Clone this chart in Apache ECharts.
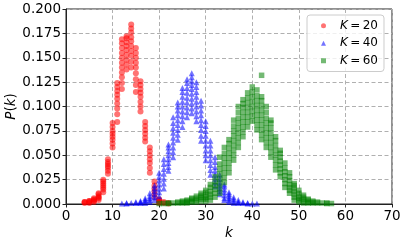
<!DOCTYPE html>
<html><head><meta charset="utf-8">
<script src="https://cdn.jsdelivr.net/npm/echarts@6/dist/echarts.min.js"></script>
<style>html,body{margin:0;padding:0;background:#fff}#c{width:406px;height:243px}</style>
</head><body><div id="c"></div>
<script>
// ---- data ----
const seriesLabels = ['20', '40', '60'];
const xTicks = [0, 10, 20, 30, 40, 50, 60, 70];
const yTicks = [0, 0.025, 0.05, 0.075, 0.1, 0.125, 0.15, 0.175, 0.2];

const k20 = [4,5,6,7,8,9,10,11,12,13,14,15,16,17,18,19,20,21,22];
const p20 = [
  [0.001,0.002,0.002],
  [0.001,0.002,0.003,0.003],
  [0.002,0.003,0.004,0.005,0.006],
  [0.004,0.006,0.007,0.008,0.010,0.011],
  [0.012,0.015,0.017,0.019,0.021,0.023,0.025],
  [0.031,0.034,0.037,0.039,0.041,0.043,0.046],
  [0.058,0.062,0.066,0.069,0.072,0.075,0.079,0.083],
  [0.084,0.092,0.098,0.103,0.108,0.112,0.116,0.120,0.124],
  [0.118,0.124,0.130,0.135,0.140,0.145,0.150,0.155,0.160,0.165,0.169],
  [0.138,0.143,0.148,0.153,0.158,0.162,0.166,0.170,0.172],
  [0.140,0.146,0.152,0.157,0.162,0.167,0.171,0.176,0.180,0.184],
  [0.115,0.122,0.128,0.134,0.140,0.145,0.150,0.155,0.160],
  [0.095,0.100,0.105,0.110,0.114,0.118,0.122,0.126],
  [0.064,0.068,0.072,0.076,0.080,0.084],
  [0.032,0.037,0.042,0.046,0.050,0.054,0.058],
  [0.007,0.010,0.013,0.016,0.019,0.023],
  [0.001,0.002,0.003,0.004,0.005],
  [0.001,0.002],
  [0.0005,0.001]
];

const k40 = [12,13,14,15,16,17,18,19,20,21,22,23,24,25,26,27,28,29,30,31,32,33,34,35,36,37,38,39,40,41];
const p40 = [
  [0.0005],
  [0.0005,0.001],
  [0.001],
  [0.001,0.002],
  [0.001,0.002,0.003],
  [0.001,0.003,0.004,0.006],
  [0.002,0.004,0.006,0.008,0.011],
  [0.004,0.007,0.010,0.013,0.016,0.019],
  [0.008,0.012,0.016,0.020,0.024,0.028,0.032],
  [0.016,0.021,0.026,0.031,0.036,0.041,0.046],
  [0.034,0.038,0.042,0.046,0.050,0.054,0.058,0.061],
  [0.048,0.053,0.058,0.063,0.068,0.073,0.078,0.083,0.089],
  [0.066,0.071,0.076,0.081,0.086,0.091,0.096,0.100,0.104],
  [0.079,0.085,0.090,0.095,0.100,0.105,0.110,0.115,0.119],
  [0.089,0.094,0.099,0.104,0.109,0.114,0.119,0.124,0.128],
  [0.093,0.098,0.103,0.108,0.113,0.118,0.122,0.126,0.130,0.134],
  [0.085,0.090,0.095,0.100,0.105,0.110,0.115,0.120,0.125],
  [0.065,0.070,0.076,0.081,0.086,0.091,0.096,0.101,0.106],
  [0.045,0.050,0.055,0.060,0.065,0.070,0.075,0.080,0.085],
  [0.030,0.035,0.040,0.045,0.050,0.055,0.060,0.065],
  [0.018,0.022,0.026,0.030,0.034,0.038,0.043,0.048],
  [0.010,0.013,0.016,0.019,0.022,0.026,0.030],
  [0.004,0.006,0.009,0.012,0.015,0.018,0.020],
  [0.002,0.004,0.006,0.008,0.010,0.012],
  [0.001,0.003,0.005,0.007],
  [0.001,0.002,0.004],
  [0.001,0.002],
  [0.0005,0.001],
  [0.0005],
  [0.0005]
];

const k60 = [20,21,22,23,24,25,26,27,28,29,30,31,32,33,34,35,36,37,38,39,40,41,42,43,44,45,46,47,48,49,50,51,52,53,54,55,56,57];
const p60 = [
  [0.0005],
  [0.0005],
  [0.0005,0.001],
  [0.001],
  [0.001,0.002],
  [0.001,0.002,0.003],
  [0.001,0.002,0.003,0.004],
  [0.002,0.003,0.005,0.006],
  [0.002,0.004,0.006,0.008],
  [0.003,0.005,0.007,0.009,0.011],
  [0.003,0.005,0.007,0.009,0.012,0.014],
  [0.004,0.007,0.010,0.013,0.017,0.020],
  [0.007,0.011,0.015,0.019,0.023,0.028],
  [0.011,0.016,0.021,0.026,0.031,0.036,0.041,0.048],
  [0.022,0.027,0.032,0.037,0.042,0.047,0.052,0.058],
  [0.032,0.037,0.042,0.047,0.052,0.057,0.062,0.066],
  [0.045,0.050,0.055,0.060,0.065,0.070,0.075,0.080,0.086],
  [0.058,0.063,0.068,0.073,0.078,0.083,0.088,0.094,0.100],
  [0.069,0.074,0.079,0.084,0.089,0.094,0.099,0.103,0.107],
  [0.079,0.084,0.089,0.094,0.099,0.104,0.109,0.114],
  [0.085,0.090,0.095,0.100,0.105,0.110,0.115,0.120],
  [0.076,0.081,0.086,0.091,0.096,0.101,0.106,0.111,0.117],
  [0.066,0.071,0.076,0.081,0.086,0.091,0.096,0.101,0.106,0.110,0.132],
  [0.058,0.063,0.068,0.073,0.078,0.083,0.088,0.094,0.100],
  [0.048,0.053,0.058,0.063,0.068,0.073,0.078,0.083,0.086],
  [0.035,0.040,0.045,0.050,0.055,0.060,0.065,0.069],
  [0.028,0.032,0.036,0.040,0.044,0.048,0.052,0.055],
  [0.017,0.021,0.025,0.029,0.033,0.037,0.042],
  [0.011,0.014,0.017,0.020,0.024,0.028,0.032],
  [0.004,0.007,0.010,0.013,0.016,0.019,0.021],
  [0.002,0.004,0.006,0.008,0.011,0.014],
  [0.001,0.003,0.005,0.007,0.009],
  [0.001,0.002,0.004,0.005],
  [0.001,0.002,0.003],
  [0.001,0.002],
  [0.001],
  [0.0005,0.001],
  [0.0005]
];

// ---- build ----
function flatten(ks, ps) {
  const out = [];
  ks.forEach((k, i) => ps[i].forEach(p => out.push([k, p])));
  return out;
}
const FONT = 'DejaVu Sans';
const styles = [
  {symbol: 'circle', size: 6, color: '#ff0000'},
  {symbol: 'triangle', size: 6, color: '#0000ff'},
  {symbol: 'rect', size: 5.5, color: '#008000'}
];
const datasets = [flatten(k20, p20), flatten(k40, p40), flatten(k60, p60)];

const chart = echarts.init(document.getElementById('c'), null, {renderer: 'canvas'});
chart.setOption({
  animation: false,
  backgroundColor: '#fff',
  grid: {left: 66, right: 14, top: 9, bottom: 39, containLabel: false, outerBoundsMode: 'none',
         show: true, borderColor: '#222', borderWidth: 1, backgroundColor: 'transparent'},
  xAxis: {
    type: 'value', min: xTicks[0], max: xTicks[xTicks.length - 1], interval: 10,
    name: '{i|k}', nameLocation: 'middle', nameGap: 22, nameMoveOverlap: false,
    nameTextStyle: {rich: {i: {fontFamily: FONT, fontStyle: 'italic', fontSize: 13.5, color: '#000'}}},
    axisLine: {show: true, lineStyle: {color: '#222', width: 1}},
    axisTick: {show: true, inside: false, length: 3.5, lineStyle: {color: '#222'}},
    axisLabel: {fontFamily: FONT, fontSize: 13.5, color: '#000', margin: 5},
    splitLine: {show: true, lineStyle: {color: '#b0b0b0', type: [4, 2.5], width: 1}}
  },
  yAxis: {
    type: 'value', min: yTicks[0], max: yTicks[yTicks.length - 1], interval: 0.025,
    name: '{i|P}({i|k})', nameLocation: 'middle', nameGap: 48, nameMoveOverlap: false,
    nameTextStyle: {fontFamily: FONT, fontSize: 13.5, color: '#000', rich: {i: {fontFamily: FONT, fontStyle: 'italic', fontSize: 13.5, color: '#000'}}},
    axisLine: {show: true, lineStyle: {color: '#222', width: 1}},
    axisTick: {show: true, inside: false, length: 3.5, lineStyle: {color: '#222'}},
    axisLabel: {fontFamily: FONT, fontSize: 13.5, color: '#000', margin: 5, formatter: v => v.toFixed(3)},
    splitLine: {show: true, lineStyle: {color: '#b0b0b0', type: [4, 2.5], width: 1}}
  },
  legend: {
    orient: 'vertical', left: 307, top: 15,
    padding: [4, 6, 4, 14], itemGap: 4,
    itemWidth: 5, itemHeight: 5,
    backgroundColor: 'rgba(255,255,255,0.8)', borderColor: '#cccccc', borderWidth: 1, borderRadius: 3,
    data: seriesLabels.map((n, i) => ({name: n, icon: styles[i].symbol, itemStyle: {opacity: 0.55}})),
    formatter: n => '{s|}{i|K}\u2009=\u2009' + n,
    textStyle: {fontFamily: FONT, fontSize: 12, color: '#000', lineHeight: 13.5,
      rich: {s: {width: 9}, i: {fontFamily: FONT, fontStyle: 'italic', fontSize: 12, color: '#000'}}}
  },
  series: datasets.map((d, i) => ({
    name: seriesLabels[i], type: 'scatter', data: d,
    symbol: styles[i].symbol, symbolSize: styles[i].size,
    itemStyle: {color: styles[i].color, opacity: 0.55},
    emphasis: {disabled: true}
  }))
});
</script></body></html>
